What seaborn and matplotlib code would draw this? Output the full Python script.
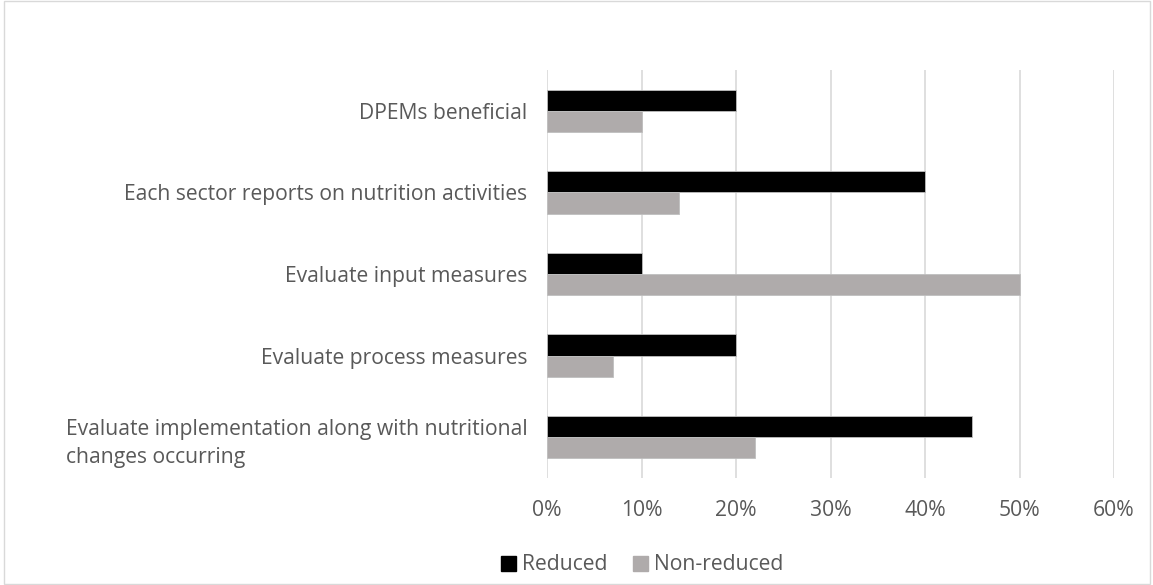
import numpy as np
import pandas as pd
import matplotlib
matplotlib.use("Agg")
import matplotlib.pyplot as plt
import seaborn as sns
from matplotlib.patches import Rectangle
from matplotlib.ticker import PercentFormatter

# data
categories = [
    "DPEMs beneficial",
    "Each sector reports on nutrition activities",
    "Evaluate input measures",
    "Evaluate process measures",
    "Evaluate implementation along with nutritional\nchanges occurring",
]
reduced = [20, 40, 10, 20, 45]
non_reduced = [10, 14, 50, 7, 22]
series = ["Reduced", "Non-reduced"]
x_ticks = [0, 10, 20, 30, 40, 50, 60]

df = pd.DataFrame({
    "category": categories * 2,
    "value": reduced + non_reduced,
    "group": [series[0]] * len(categories) + [series[1]] * len(categories),
})

sns.set_theme(style="white")
plt.rcParams["font.family"] = ["Open Sans", "DejaVu Sans"]
TEXT = "#595959"
FS = 15.2

fig = plt.figure(figsize=(11.53, 5.85), dpi=100)
ax = fig.add_axes([547 / 1153, 107 / 585, 567 / 1153, 408 / 585])

sns.barplot(
    data=df, y="category", x="value", hue="group", orient="h",
    palette=["#000000", "#AFABAB"], width=0.52, ax=ax,
    edgecolor="#BFBFBF", linewidth=0.6, saturation=1,
)

ax.set_xlim(0, 60)
ax.set_ylim(len(categories) - 0.5, -0.5)
ax.set_xticks(x_ticks)
ax.xaxis.set_major_formatter(PercentFormatter(decimals=0))
ax.grid(axis="x", color="#D9D9D9", linewidth=1.2)
ax.set_axisbelow(True)
for s in ax.spines.values():
    s.set_visible(False)
ax.set_xlabel("")
ax.set_ylabel("")
ax.tick_params(axis="x", length=0, pad=16, labelsize=FS, labelcolor=TEXT)
ax.tick_params(axis="y", length=0, pad=14, labelsize=FS, labelcolor=TEXT)
for lbl in ax.get_yticklabels():
    lbl.set_horizontalalignment("right")
    lbl.set_multialignment("left")
    lbl.set_linespacing(1.45)

ax.legend_.remove()
handles = [Rectangle((0, 0), 1, 1, color="#000000"), Rectangle((0, 0), 1, 1, color="#AFABAB")]
fig.legend(handles, series, loc="center", bbox_to_anchor=(642 / 1153, 1 - 565 / 585),
           ncol=2, frameon=False, fontsize=FS, labelcolor=TEXT,
           handlelength=0.7, handleheight=0.7, handletextpad=0.3, columnspacing=1.2)

# light frame around the whole chart
fig.patches.append(Rectangle((4 / 1153, 1 / 585), 1146 / 1153, 583 / 585,
                             transform=fig.transFigure, fill=False,
                             edgecolor="#D9D9D9", linewidth=1))

fig.savefig("out.png", dpi=100)
